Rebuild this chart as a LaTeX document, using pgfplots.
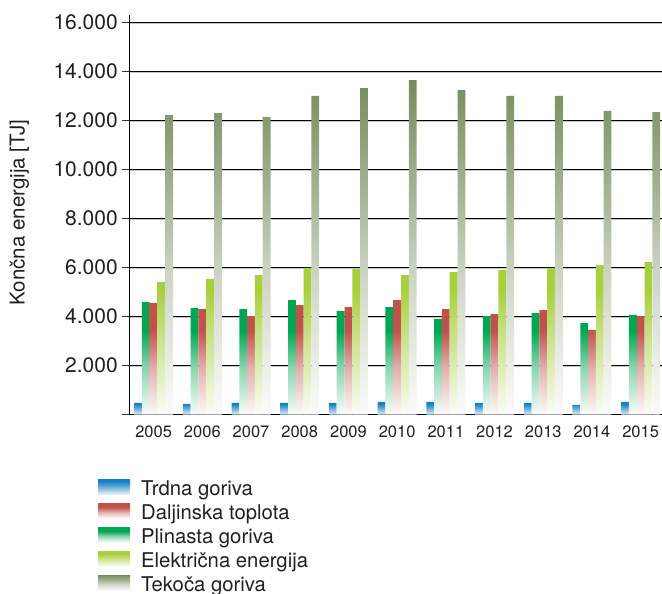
\documentclass[border=0pt]{standalone}
\usepackage{pgfplots}
\pgfplotsset{compat=1.18}
\usepackage{fontspec}
\setmainfont{TeX Gyre Heros}

% series colours
\definecolor{trdna}{RGB}{20,128,198}
\definecolor{daljinska}{RGB}{192,82,76}
\definecolor{plinasta}{RGB}{0,166,81}
\definecolor{elektricna}{RGB}{168,207,60}
\definecolor{tekoca}{RGB}{120,140,94}
\definecolor{txt}{RGB}{35,31,32}

% vertical fades: full colour at the top of each bar, almost white at its foot
\pgfdeclareverticalshading{fadeTrdna}{100bp}{color(0bp)=(trdna!10!white); color(25bp)=(trdna!10!white); color(55bp)=(trdna!75!white); color(68bp)=(trdna); color(100bp)=(trdna)}
\pgfdeclareverticalshading{fadeDaljinska}{100bp}{color(0bp)=(daljinska!3!white); color(25bp)=(daljinska!3!white); color(45bp)=(daljinska!45!white); color(62bp)=(daljinska); color(100bp)=(daljinska)}
\pgfdeclareverticalshading{fadePlinasta}{100bp}{color(0bp)=(plinasta!3!white); color(25bp)=(plinasta!3!white); color(45bp)=(plinasta!45!white); color(62bp)=(plinasta); color(100bp)=(plinasta)}
\pgfdeclareverticalshading{fadeElektricna}{100bp}{color(0bp)=(elektricna!5!white); color(25bp)=(elektricna!5!white); color(50bp)=(elektricna!60!white); color(66bp)=(elektricna); color(100bp)=(elektricna)}
\pgfdeclareverticalshading{fadeTekoca}{100bp}{color(0bp)=(white); color(25bp)=(tekoca!3!white); color(45bp)=(tekoca!35!white); color(60bp)=(tekoca!70!white); color(75bp)=(tekoca); color(100bp)=(tekoca)}

\begin{document}
\begin{tikzpicture}
\useasboundingbox (-129.3pt,-179.3pt) rectangle (532.7pt,414.7pt);
\begin{axis}[
  scale only axis,
  width=535.7pt, height=399.35pt,
  xmin=-0.5, xmax=10.5, ymin=0, ymax=16300,
  axis x line*=bottom, axis y line*=left,
  axis line style={line width=0.9pt, black},
  tick align=outside,
  major tick length=7pt,
  tick style={line width=0.9pt, black!80},
  scaled y ticks=false,
  ytick={2000,4000,...,16000},
  extra y ticks={0}, extra y tick labels={},
  extra y tick style={grid=none},
  ymajorgrids,
  major grid style={line width=0.8pt, black,
    preaction={draw=black!22, line width=1pt, transform canvas={yshift=-1.3pt}}},
  xtick={0,...,10},
  xticklabels={2005,2006,2007,2008,2009,2010,2011,2012,2013,2014,2015},
  x tick style={draw=none},
  extra x ticks={-0.5,0.5,...,9.5},
  extra x tick labels={},
  extra x tick style={tick style={draw=black!75, line width=0.9pt}, major tick length=7pt},
  yticklabel style={font=\fontsize{21}{25}\selectfont, text=txt, xshift=-1pt},
  xticklabel style={font=\fontsize{16.5}{20}\selectfont, text=txt, yshift=-1pt},
  /pgf/number format/1000 sep={.},
  /pgf/number format/assume math mode=true,
  ylabel={Končna energija [TJ]},
  ylabel style={font=\fontsize{20.5}{24}\selectfont, text=txt,
    at={(axis description cs:0,0.5)}, anchor=center, yshift=110pt, xshift=2.4pt},
  legend image code/.code={\path[#1] (0pt,-4pt) rectangle (32pt,11pt);},
  legend cell align=left,
  legend style={draw=none, fill=none, inner sep=0pt,
    at={(axis description cs:0,0)}, anchor=north west,
    xshift=-31.3pt, yshift=-64.3pt,
    font=\fontsize{20.3}{24}\selectfont, text=txt,
    nodes={inner sep=0pt, text height=15pt, text depth=5pt},
    /tikz/column sep=11pt, /tikz/row sep=3pt},
]
% bars, left to right inside each year
\addplot[forget plot, ybar, bar width=7.8pt, bar shift=-15.6pt, draw=none, shade, shading=fadeTrdna]
  coordinates {(0,480) (1,440) (2,480) (3,480) (4,480) (5,520) (6,520) (7,480) (8,480) (9,400) (10,520)};
\addplot[forget plot, ybar, bar width=7.8pt, bar shift=-7.8pt, draw=none, shade, shading=fadePlinasta]
  coordinates {(0,4600) (1,4350) (2,4310) (3,4680) (4,4230) (5,4390) (6,3910) (7,4020) (8,4150) (9,3740) (10,4070)};
\addplot[forget plot, ybar, bar width=7.8pt, bar shift=0pt, draw=none, shade, shading=fadeDaljinska]
  coordinates {(0,4560) (1,4310) (2,4020) (3,4470) (4,4390) (5,4680) (6,4310) (7,4110) (8,4270) (9,3460) (10,4020)};
\addplot[forget plot, ybar, bar width=7.8pt, bar shift=7.8pt, draw=none, shade, shading=fadeElektricna]
  coordinates {(0,5420) (1,5540) (2,5700) (3,5990) (4,5950) (5,5700) (6,5820) (7,5910) (8,5990) (9,6110) (10,6230)};
\addplot[forget plot, ybar, bar width=7.8pt, bar shift=15.6pt, draw=none, shade, shading=fadeTekoca]
  coordinates {(0,12230) (1,12310) (2,12150) (3,13010) (4,13330) (5,13660) (6,13250) (7,13010) (8,13010) (9,12400) (10,12350)};

% legend
\addlegendimage{draw=none, shade, shading=fadeTrdna}
\addlegendentry{Trdna goriva}
\addlegendimage{draw=none, shade, shading=fadeDaljinska}
\addlegendentry{Daljinska toplota}
\addlegendimage{draw=none, shade, shading=fadePlinasta}
\addlegendentry{Plinasta goriva}
\addlegendimage{draw=none, shade, shading=fadeElektricna}
\addlegendentry{Električna energija}
\addlegendimage{draw=none, shade, shading=fadeTekoca}
\addlegendentry{Tekoča goriva}
\end{axis}
\end{tikzpicture}
\end{document}
